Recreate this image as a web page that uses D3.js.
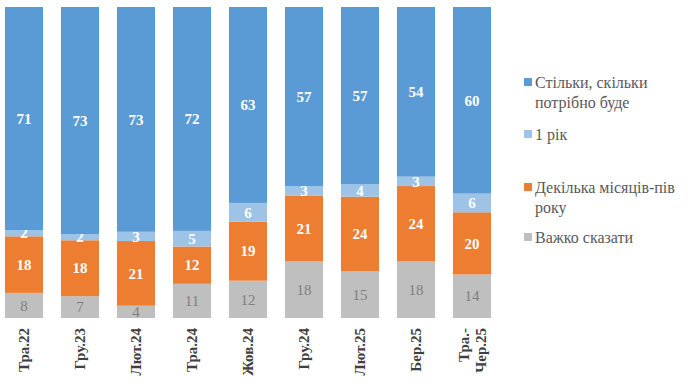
<!DOCTYPE html>
<html>
<head>
<meta charset="utf-8">
<script src="https://cdn.jsdelivr.net/npm/d3@7"></script>
<style>
  body { margin: 0; background: #fff; }
  svg { display: block; }
  svg text { font-family: 'Liberation Serif', 'DejaVu Serif', 'Times New Roman', Times, serif; }
</style>
</head>
<body>
<div class="chart"></div>
<script>
const categories = ['Тра.22', 'Гру.23', 'Лют.24', 'Тра.24', 'Жов.24', 'Гру.24', 'Лют.25', 'Бер.25', 'Тра.-\nЧер.25']

// bottom to top
const seriesKeys = ['hard', 'months', 'year', 'needed']
const seriesNames = ['Важко сказати', 'Декілька місяців-пів\nроку', '1 рік', 'Стільки, скільки\nпотрібно буде']
const colors = ['#bfbfbf', '#ed7d31', '#9dc3e6', '#5b9bd5']

const hard = [8, 7, 4, 11, 12, 18, 15, 18, 14]
const months = [18, 18, 21, 12, 19, 21, 24, 24, 20]
const year = [2, 2, 3, 5, 6, 3, 4, 3, 6]
const needed = [71, 73, 73, 72, 63, 57, 57, 54, 60]

const W = 690
const H = 384
const plotTop = 7
const plotBottom = 318

const rows = categories.map((c, i) => ({
  cat: c,
  hard: hard[i],
  months: months[i],
  year: year[i],
  needed: needed[i],
}))

const svg = d3
  .select('.chart')
  .append('svg')
  .attr('width', W)
  .attr('height', H)

const x = d3
  .scaleBand()
  .domain(categories)
  .range([-4, 500])
  .paddingInner(0.32)
  .paddingOuter(0.16)

const y = d3.scaleLinear().domain([0, 1]).range([plotBottom, plotTop])

const stack = d3.stack().keys(seriesKeys).offset(d3.stackOffsetExpand)
const layers = stack(rows)

const layer = svg
  .selectAll('.layer')
  .data(layers)
  .enter()
  .append('g')
  .attr('class', 'layer')
  .attr('fill', (d, i) => colors[i])

layer
  .selectAll('rect')
  .data(d => d)
  .enter()
  .append('rect')
  .attr('x', d => x(d.data.cat))
  .attr('width', x.bandwidth())
  .attr('y', d => y(d[1]))
  .attr('height', d => y(d[0]) - y(d[1]))

layer
  .selectAll('text')
  .data((d, i) => d.map(p => ({ p, key: d.key, i })))
  .enter()
  .append('text')
  .attr('x', d => x(d.p.data.cat) + x.bandwidth() / 2)
  .attr('y', d => (y(d.p[0]) + y(d.p[1])) / 2)
  .attr('dy', '0.35em')
  .attr('text-anchor', 'middle')
  .attr('font-size', 15)
  .attr('font-weight', d => (d.i === 0 ? 'normal' : 'bold'))
  .attr('fill', d => (d.i === 0 ? '#7f7f7f' : '#ffffff'))
  .text(d => d.p.data[d.key])

// category labels, rotated
const xAxis = svg.append('g')
categories.forEach(c => {
  const lines = c.split('\n')
  const cx = x(c) + x.bandwidth() / 2
  const t = xAxis
    .append('text')
    .attr('transform', `translate(${cx},${plotBottom + 10}) rotate(-90)`)
    .attr('text-anchor', 'end')
    .attr('font-size', 15)
    .attr('font-weight', 'bold')
    .attr('fill', '#404040')
  lines.forEach((l, k) => {
    t.append('tspan')
      .attr('x', 0)
      .attr('y', (k - (lines.length - 1) / 2) * 17)
      .attr('dy', '0.35em')
      .text(l)
  })
})

// legend, top to bottom
const legendY = [82, 134, 187, 237]
const legend = svg
  .selectAll('.legend')
  .data(seriesNames.map((n, i) => ({ n, i })).reverse())
  .enter()
  .append('g')
  .attr('class', 'legend')
  .attr('transform', (d, k) => `translate(524,${legendY[k]})`)

legend
  .append('rect')
  .attr('x', 0)
  .attr('y', -4)
  .attr('width', 8)
  .attr('height', 8)
  .attr('fill', d => colors[d.i])

legend
  .append('text')
  .attr('font-size', 16)
  .attr('fill', '#595959')
  .selectAll('tspan')
  .data(d => d.n.split('\n'))
  .enter()
  .append('tspan')
  .attr('x', 11)
  .attr('y', (d, k) => k * 20)
  .attr('dy', '0.35em')
  .text(d => d)
</script>
</body>
</html>
